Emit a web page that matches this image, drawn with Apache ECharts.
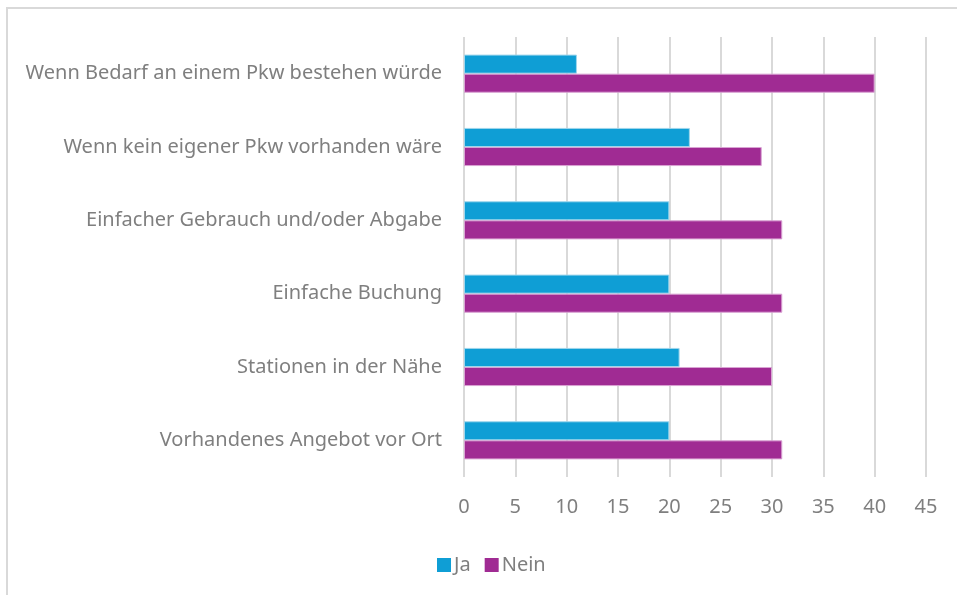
<!DOCTYPE html>
<html>
<head>
<meta charset="utf-8">
<script src="https://cdn.jsdelivr.net/npm/echarts@6/dist/echarts.min.js"></script>
<style>
  html, body { margin: 0; padding: 0; background: #fff; }
  #chart { width: 957px; height: 595px; }
</style>
</head>
<body>
<div id="chart"></div>
<script>
var categories = [
    'Wenn Bedarf an einem Pkw bestehen würde',
    'Wenn kein eigener Pkw vorhanden wäre',
    'Einfacher Gebrauch und/oder Abgabe',
    'Einfache Buchung',
    'Stationen in der Nähe',
    'Vorhandenes Angebot vor Ort'
];
var jaValues = [11, 22, 20, 20, 21, 20];
var neinValues = [40, 29, 31, 31, 30, 31];

var textColor = '#7f7f7f';
var fontFamily = '"Noto Sans", sans-serif';

var option = {
    animation: false,
    textStyle: { fontFamily: fontFamily },
    graphic: [{
        type: 'rect',
        shape: { x: 7, y: 8, width: 1000, height: 1000 },
        style: { fill: 'none', stroke: '#d9d9d9', lineWidth: 2 },
        silent: true
    }],
    legend: {
        data: ['Ja', 'Nein'],
        left: 432,
        top: 550,
        itemWidth: 14,
        itemHeight: 14,
        itemGap: 14,
        icon: 'rect',
        itemStyle: { borderWidth: 0 },
        textStyle: { color: textColor, fontSize: 20, fontFamily: fontFamily, padding: [0, 0, 0, -2] }
    },
    grid: {
        left: 464,
        right: 31,
        top: 37,
        bottom: 118,
        containLabel: false
    },
    xAxis: {
        type: 'value',
        min: 0,
        max: 45,
        interval: 5,
        axisLine: { show: false },
        axisTick: { show: false },
        axisLabel: { color: textColor, fontSize: 20, margin: 20, fontFamily: fontFamily },
        splitLine: { lineStyle: { color: '#d9d9d9', width: 2 } }
    },
    yAxis: {
        type: 'category',
        data: categories,
        inverse: true,
        axisLine: { show: false },
        axisTick: { show: false },
        axisLabel: { color: textColor, fontSize: 20, margin: 22, fontFamily: fontFamily }
    },
    series: [
        {
            name: 'Ja',
            type: 'bar',
            data: jaValues,
            barCategoryGap: '48%',
            barGap: '0%',
            itemStyle: { color: '#0f9ed5', borderColor: '#9fd6ec', borderWidth: 1 }
        },
        {
            name: 'Nein',
            type: 'bar',
            data: neinValues,
            barCategoryGap: '48%',
            barGap: '0%',
            itemStyle: { color: '#a02b93', borderColor: '#d9a3d3', borderWidth: 1 }
        }
    ]
};

var chart = echarts.init(document.getElementById('chart'), null, { renderer: 'canvas' });
chart.setOption(option, true);
</script>
</body>
</html>
